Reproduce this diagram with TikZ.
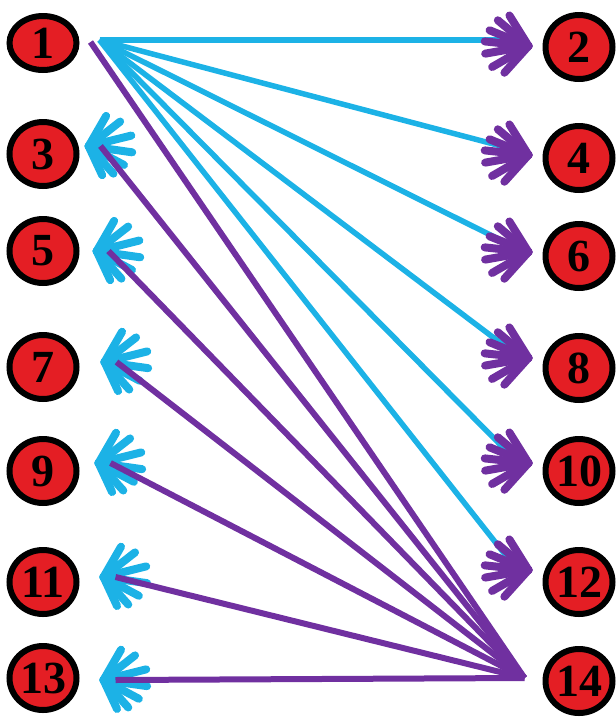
\documentclass[tikz,border=0pt]{standalone}
\usepackage{fontspec}
\setmainfont{Liberation Serif}
\usepackage{xcolor}
\usepackage{tikz}
\usetikzlibrary{shapes.geometric, positioning, decorations.markings}

\definecolor{nodered}{RGB}{228,30,36}
\definecolor{linecyan}{RGB}{28,178,230}
\definecolor{linepurple}{RGB}{112,48,160}

\begin{document}
\begin{tikzpicture}[font=\fontsize{46}{46}\selectfont\bfseries]
    \tikzstyle{vertex} = [draw=black, ellipse, fill=nodered, line width=6pt, minimum width=67pt, minimum height=64pt, inner sep=0pt]
    \tikzstyle{feed} = [draw=linecyan, line width=5.5pt]
    \tikzstyle{back} = [draw=linepurple, line width=6pt]
    \tikzstyle{fanright} = [decoration={markings, mark=at position 1 with {\pgftransformresetnontranslations
        \foreach \a/\l in {122/36pt, 140/40pt, 158/42pt, 174/44pt, 190/44pt, 210/42pt, 228/36pt}
            \draw [linepurple, line width=8pt, line cap=round] (16pt,-6pt) -- ++(\a:\l);}}, postaction={decorate}]
    \tikzstyle{fanleft} = [decoration={markings, mark=at position 1 with {\pgftransformresetnontranslations
        \foreach \a/\l in {60/35pt, 38/40pt, 14/44pt, -8/44pt, -28/40pt, -48/37pt, -65/32pt}
            \draw [linecyan, line width=8pt, line cap=round] (-12pt,0pt) -- ++(\a:\l);}}, preaction={decorate}]

    \useasboundingbox (0,0) rectangle (616pt,-721pt);

    % left column
    \node [vertex, minimum height=54pt] (v1) at (43pt,-43pt) {1};
    \node [vertex, below=46pt of v1] (v3) {3};
    \node [vertex, below=27pt of v3] (v5) {5};
    \node [vertex, below=46pt of v5] (v7) {7};
    \node [vertex, below=34pt of v7] (v9) {9};
    \node [vertex, below=41pt of v9] (v11) {11};
    \node [vertex, below=26pt of v11] (v13) {13};

    % right column
    \node [vertex] (v2) at (579pt,-47pt) {2};
    \node [vertex, below=41pt of v2] (v4) {4};
    \node [vertex, below=28pt of v4] (v6) {6};
    \node [vertex, below=42pt of v6] (v8) {8};
    \node [vertex, below=33pt of v8] (v10) {10};
    \node [vertex, below=41pt of v10] (v12) {12};
    \node [vertex, below=29pt of v12] (v14) {14};

    % from 14 back to the left
    \draw [back] ([xshift=-18pt,yshift=3pt]v14.west) -- ([xshift=11pt,yshift=1pt]v1.east);
    \foreach \s/\dx/\dy in {3/21pt/8pt, 5/29pt/0pt, 7/37pt/5pt, 9/31pt/8pt, 11/36pt/5pt, 13/36pt/-2pt}
        \draw [back, fanleft] ([xshift=-18pt,yshift=3pt]v14.west) -- ([xshift=\dx,yshift=\dy]v\s.east);

    % from 1 to the right
    \foreach \t/\dy in {2/7pt, 4/9pt, 6/10pt, 8/16pt, 10/14pt, 12/18pt}
        \draw [feed, fanright] ([xshift=20pt,yshift=3pt]v1.east) -- ([xshift=-30pt,yshift=\dy]v\t.west);
\end{tikzpicture}
\end{document}
